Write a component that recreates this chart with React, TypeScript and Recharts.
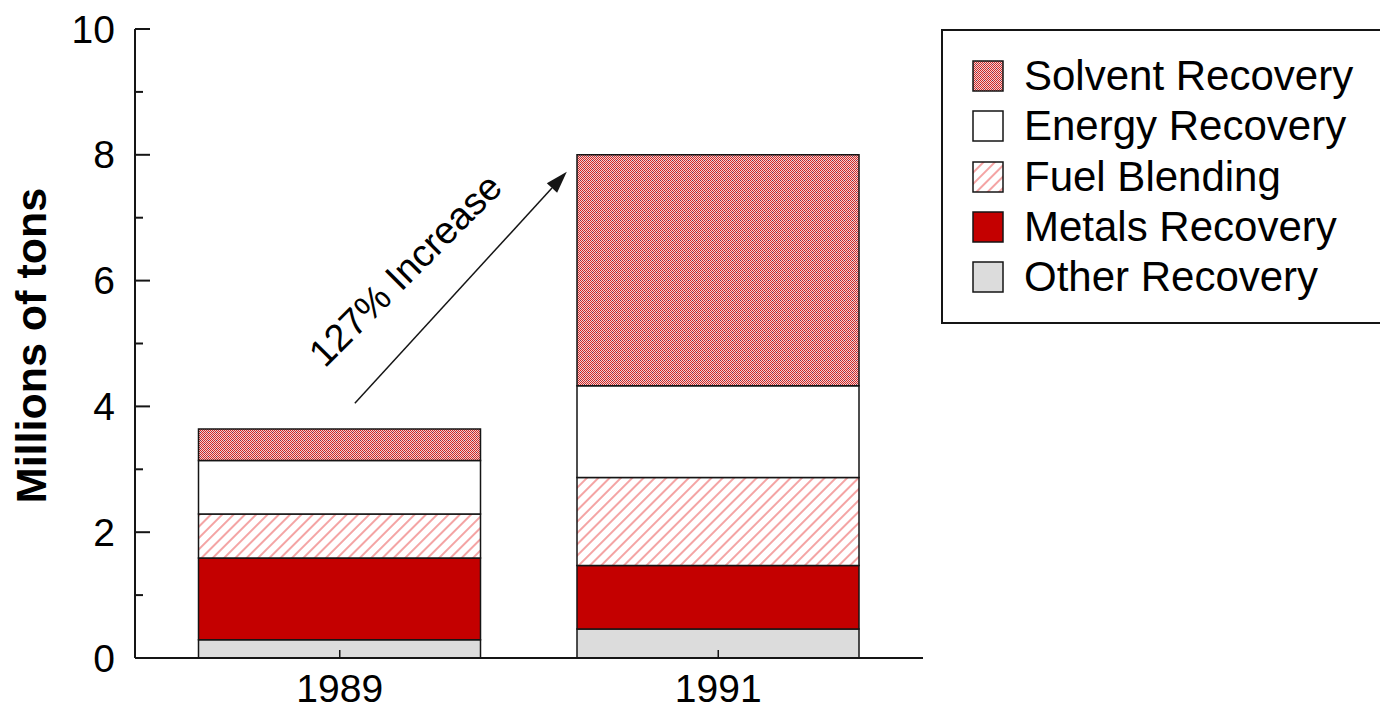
import React from 'react';
import * as Recharts from 'recharts';
import { BarChart, Bar, XAxis, YAxis } from 'recharts';

// values in millions of tons
const years = ['1989', '1991'];
const otherRecovery = [0.29, 0.46];
const metalsRecovery = [1.3, 1.01];
const fuelBlending = [0.7, 1.4];
const energyRecovery = [0.85, 1.46];
const solventRecovery = [0.5, 3.67];
const yTicks = [0, 1, 2, 3, 4, 5, 6, 7, 8, 9, 10];
const annotation = '127% Increase';

const data = years.map((year, i) => ({
  year,
  other: otherRecovery[i],
  metals: metalsRecovery[i],
  fuel: fuelBlending[i],
  energy: energyRecovery[i],
  solvent: solventRecovery[i],
}));

// stack order, bottom to top
const series = [
  { key: 'other', name: 'Other Recovery', fill: '#dcdcdc' },
  { key: 'metals', name: 'Metals Recovery', fill: '#c40000' },
  { key: 'fuel', name: 'Fuel Blending', fill: 'url(#fuelStripes)' },
  { key: 'energy', name: 'Energy Recovery', fill: '#ffffff' },
  { key: 'solvent', name: 'Solvent Recovery', fill: 'url(#solventDots)' },
];

const W = 1380;
const H = 709;
const MARGIN = { top: 29, right: 457, bottom: 0, left: 0 };
const Y_AXIS_W = 135;
const X_AXIS_H = 51;
const Y_MAX = 10;
const INK = '#151515';
const FONT = '"Liberation Sans", Arial, Helvetica, sans-serif';
const Y_MARGIN = 20;

// annotation anchors: x as fraction of plot width, y in data units
const arrowFrom = { fx: 0.279, y: 4.05 };
const arrowTo = { fx: 0.548, y: 7.73 };
const labelAt = { fx: 0.343, y: 6.17 };

const YTick = (props: any) => {
  const { x, y, payload } = props;
  const major = payload.value % 2 === 0;
  const ax = x + Y_MARGIN;
  return (
    <g>
      <line x1={ax} x2={ax + (major ? 15 : 8)} y1={y} y2={y} stroke={INK} strokeWidth={2} />
      {major && (
        <text x={x} y={y} textAnchor="end" dominantBaseline="central" fontSize={39} fill="#000">
          {payload.value}
        </text>
      )}
    </g>
  );
};

const XTick = (props: any) => {
  const { x, y, payload } = props;
  return (
    <g>
      <line x1={x} x2={x} y1={y} y2={y - 8} stroke={INK} strokeWidth={1.5} />
      <text x={x} y={y + 44} textAnchor="middle" fontSize={39} fill="#000">
        {payload.value}
      </text>
    </g>
  );
};

const YTitle = (props: any) => {
  const vb = props.viewBox;
  const cx = vb.x + 31;
  const cy = vb.y + vb.height / 2 + 2;
  return (
    <text
      x={cx}
      y={cy}
      transform={`rotate(-90 ${cx} ${cy})`}
      textAnchor="middle"
      dominantBaseline="central"
      fontSize={43}
      fontWeight="bold"
      fill="#000"
    >
      Millions of tons
    </text>
  );
};

const usePlot: any = (Recharts as any).usePlotArea;

function Annotation() {
  const fromHook = usePlot ? usePlot() : null;
  const area = fromHook || {
    x: MARGIN.left + Y_AXIS_W,
    y: MARGIN.top,
    width: W - MARGIN.left - MARGIN.right - Y_AXIS_W,
    height: H - MARGIN.top - MARGIN.bottom - X_AXIS_H,
  };
  const px = (fx: number) => area.x + fx * area.width;
  const py = (v: number) => area.y + (1 - v / Y_MAX) * area.height;

  const x1 = px(arrowFrom.fx);
  const y1 = py(arrowFrom.y);
  const x2 = px(arrowTo.fx);
  const y2 = py(arrowTo.y);
  const a = Math.atan2(y2 - y1, x2 - x1);
  const len = 22;
  const half = 7;
  const bx = x2 - len * Math.cos(a);
  const by = y2 - len * Math.sin(a);
  const pts = `${x2},${y2} ${bx + half * Math.sin(a)},${by - half * Math.cos(a)} ${bx - half * Math.sin(a)},${by + half * Math.cos(a)}`;
  const tx = px(labelAt.fx);
  const ty = py(labelAt.y);
  return (
    <g className="annotation">
      <line x1={x1} y1={y1} x2={bx} y2={by} stroke={INK} strokeWidth={1.5} />
      <polygon points={pts} fill={INK} />
      <text
        x={tx}
        y={ty}
        transform={`rotate(-45 ${tx} ${ty})`}
        textAnchor="middle"
        dominantBaseline="central"
        fontSize={38}
        fill="#000"
      >
        {annotation}
      </text>
    </g>
  );
}

function Swatch({ fill }: { fill: string }) {
  return (
    <svg width={32} height={32} style={{ display: 'block' }}>
      <rect x={1} y={1} width={30} height={30} fill={fill} stroke={INK} strokeWidth={1.5} />
    </svg>
  );
}

export default function App() {
  const legendItems = [...series].reverse();
  return (
    <div
      style={{
        position: 'absolute',
        left: 0,
        top: 0,
        width: W,
        height: H,
        overflow: 'hidden',
        background: '#fff',
        fontFamily: FONT,
      }}
    >
      <BarChart width={W} height={H} data={data} margin={MARGIN} barSize={282}>
        <defs>
          <pattern id="checker" width={2} height={2} patternUnits="userSpaceOnUse">
            <rect width={2} height={2} fill="#f6d0d0" />
            <rect width={1} height={1} fill="#cc2a2a" />
            <rect x={1} y={1} width={1} height={1} fill="#cc2a2a" />
          </pattern>
          <pattern id="solventDots" width={8} height={8} patternUnits="userSpaceOnUse">
            <rect width={8} height={8} fill="url(#checker)" />
            <rect x={4} y={4} width={1} height={1} fill="#6a3a5a" />
            <rect x={0} y={0} width={1} height={1} fill="#6a3a5a" />
          </pattern>
          <pattern
            id="fuelStripes"
            width={8}
            height={8}
            patternUnits="userSpaceOnUse"
            patternTransform="rotate(45)"
          >
            <rect width={8} height={8} fill="#ffffff" />
            <rect width={2} height={8} fill="#f4a4a4" />
          </pattern>
        </defs>

        {series.map((s) => (
          <Bar
            key={s.key}
            dataKey={s.key}
            name={s.name}
            stackId="a"
            fill={s.fill}
            stroke={INK}
            strokeWidth={1.5}
            isAnimationActive={false}
          />
        ))}

        <XAxis
          dataKey="year"
          height={X_AXIS_H}
          padding={{ left: 15.5, right: 15.5 }}
          tickSize={0}
          tickMargin={0}
          tickLine={false}
          axisLine={{ stroke: INK, strokeWidth: 2 }}
          tick={<XTick />}
        />
        <XAxis
          xAxisId="top"
          orientation="top"
          height={0}
          tick={false}
          tickLine={false}
          axisLine={{ stroke: INK, strokeWidth: 2 }}
        />
        <YAxis
          width={Y_AXIS_W}
          domain={[0, Y_MAX]}
          ticks={yTicks}
          interval={0}
          tickSize={0}
          tickMargin={Y_MARGIN}
          tickLine={false}
          axisLine={{ stroke: INK, strokeWidth: 2 }}
          tick={<YTick />}
          label={<YTitle />}
        />
        <YAxis
          yAxisId="right"
          orientation="right"
          width={0}
          domain={[0, Y_MAX]}
          tick={false}
          tickLine={false}
          axisLine={{ stroke: INK, strokeWidth: 2 }}
        />
        <Annotation />
      </BarChart>

      <div
        style={{
          position: 'absolute',
          left: 941,
          top: 29,
          width: W - 941,
          height: 295,
          boxSizing: 'border-box',
          borderTop: `2px solid ${INK}`,
          borderBottom: `2px solid ${INK}`,
          borderLeft: `2px solid ${INK}`,
          paddingLeft: 29,
          paddingTop: 20,
        }}
      >
        {legendItems.map((s) => (
          <div key={s.key} style={{ display: 'flex', alignItems: 'center', height: 50.3 }}>
            <Swatch fill={s.fill} />
            <span style={{ marginLeft: 20, fontSize: 42, color: '#000', whiteSpace: 'nowrap', lineHeight: 1 }}>
              {s.name}
            </span>
          </div>
        ))}
      </div>
    </div>
  );
}
